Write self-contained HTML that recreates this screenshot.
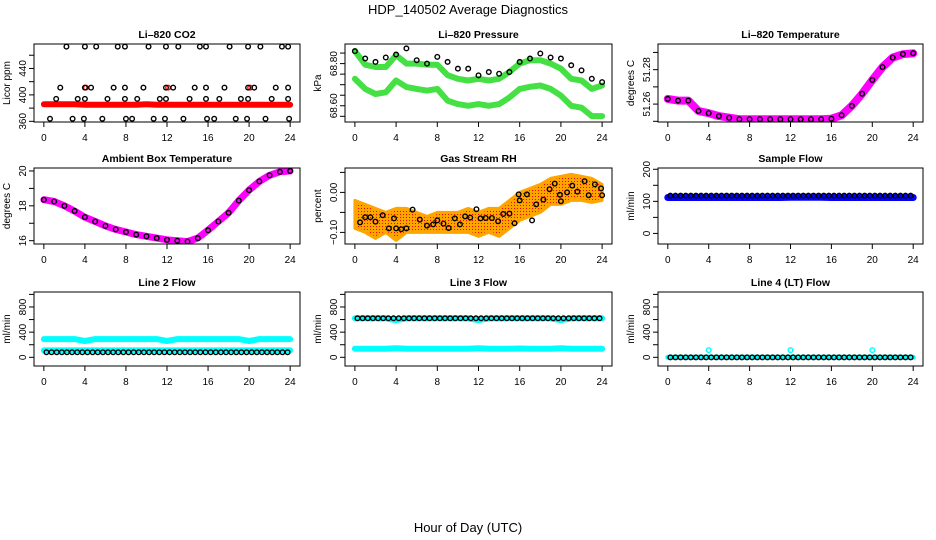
<!DOCTYPE html>
<html><head><meta charset="utf-8"><style>
html,body{margin:0;padding:0;background:#fff}
svg{display:block;font-family:"Liberation Sans",Arial,sans-serif}
</style></head><body>
<svg id="chart" width="936" height="540" viewBox="0 0 936 540">
<text x="468" y="14" text-anchor="middle" font-size="13">HDP_140502  Average Diagnostics</text>
<text x="468" y="532" text-anchor="middle" font-size="13">Hour of Day (UTC)</text>
</svg>
<script>
const H25=[0,1,2,3,4,5,6,7,8,9,10,11,12,13,14,15,16,17,18,19,20,21,22,23,24];
const H48=[0.25,0.75,1.25,1.75,2.25,2.75,3.25,3.75,4.25,4.75,5.25,5.75,6.25,6.75,7.25,7.75,8.25,8.75,9.25,9.75,10.25,10.75,11.25,11.75,12.25,12.75,13.25,13.75,14.25,14.75,15.25,15.75,16.25,16.75,17.25,17.75,18.25,18.75,19.25,19.75,20.25,20.75,21.25,21.75,22.25,22.75,23.25,23.75];
const xTicks=[0,4,8,12,16,20,24];
// CO2
const co2TopHours=[2.2,4.0,5.1,7.2,7.9,10.2,11.9,13.1,15.2,15.8,18.1,19.9,21.1,23.2,23.8];
const co2HiHours=[1.6,4.0,4.6,6.8,7.9,9.7,11.9,12.6,14.7,15.8,17.6,19.9,20.5,22.6,23.8];
const co2MidHours=[1.2,3.3,4.0,6.2,7.9,9.1,11.3,11.9,14.2,15.8,17.1,19.2,19.9,22.2,23.8];
const co2LowHours=[0.6,2.8,3.9,5.7,8.0,8.6,10.7,11.8,13.6,15.9,16.6,18.7,19.8,21.6,23.9];
const co2Levels=[473,411,394,364];
const co2Red=[386,386,386,386,385,385,385,385,385,385,386,385,385,385,385,385,385,385,385,385,385,385,385,385,385];
const co2RedSpikeHours=[4.1,12.1,20.1];
const co2RedSpikeVals=[411,411,411];
// Pressure
const pBlack=[68.859,68.824,68.808,68.829,68.843,68.872,68.816,68.80,68.832,68.808,68.776,68.776,68.744,68.760,68.752,68.760,68.808,68.824,68.848,68.829,68.824,68.792,68.768,68.728,68.712];
const pUpper=[68.86,68.795,68.784,68.784,68.84,68.80,68.80,68.795,68.795,68.745,68.728,68.72,68.728,68.72,68.728,68.76,68.80,68.816,68.816,68.80,68.776,68.728,68.72,68.68,68.696];
const pLower=[68.728,68.68,68.656,68.664,68.72,68.689,68.68,68.672,68.68,68.624,68.608,68.60,68.608,68.60,68.608,68.639,68.68,68.69,68.696,68.68,68.648,68.60,68.591,68.551,68.551];
// Li-820 temperature
const tLicor=[51.263,51.262,51.262,51.256,51.2547,51.253,51.2521,51.2512,51.2512,51.2512,51.2512,51.2512,51.2512,51.2512,51.2512,51.2512,51.2515,51.2535,51.259,51.266,51.274,51.2815,51.287,51.289,51.2895];
// Ambient
const tAmb=[18.35,18.25,18.0,17.7,17.35,17.1,16.85,16.65,16.5,16.35,16.25,16.15,16.05,16.0,15.95,16.15,16.6,17.1,17.6,18.3,18.9,19.4,19.75,19.95,20.0];
// RH
const rhHours=[0.5,1,1.5,2,2.7,3.3,3.8,4,4.5,5,5.6,6.3,7,7.6,8,8.6,9.1,9.7,10.2,10.7,11.2,11.8,12.2,12.7,13.3,13.9,14.4,15,15.5,15.9,16,16.7,17.2,17.6,18.3,18.9,19.4,19.9,20,20.6,21.1,21.6,22.3,22.7,23.3,23.9,24];
const rhVals=[-0.075,-0.062,-0.062,-0.073,-0.057,-0.09,-0.065,-0.09,-0.092,-0.09,-0.043,-0.068,-0.083,-0.08,-0.07,-0.078,-0.089,-0.065,-0.08,-0.06,-0.063,-0.042,-0.065,-0.064,-0.064,-0.072,-0.054,-0.053,-0.077,-0.005,-0.02,-0.005,-0.07,-0.03,-0.018,0.008,0.022,-0.006,-0.022,0.0,0.017,0.002,0.028,-0.007,0.02,0.01,-0.007];
const rhLow=[-0.09,-0.10,-0.115,-0.10,-0.12,-0.10,-0.10,-0.10,-0.10,-0.10,-0.10,-0.10,-0.11,-0.10,-0.11,-0.09,-0.07,-0.06,-0.05,-0.03,-0.03,-0.02,-0.02,-0.025,-0.02];
const rhHigh=[-0.02,-0.03,-0.04,-0.05,-0.04,-0.04,-0.05,-0.06,-0.05,-0.05,-0.05,-0.04,-0.05,-0.04,-0.04,-0.02,0.0,0.01,0.02,0.035,0.04,0.045,0.04,0.035,0.02];
// Flows
const sfBlue=[112,112,112,112,112,112,112,112,112,112,112,112,113,113,113,113,112,112,112,112,112,112,112,112,112];
const sfBlack=[118,118,118,118,118,118,118,118,118,118,118,118,118,118,118,118,118,118,118,118,118,118,118,118,118,118,118,118,118,118,118,118,118,118,118,118,118,118,118,118,118,118,118,118,118,118,118,118];
const l2Upper=[290,290,290,290,260,290,290,290,290,290,290,290,260,290,290,290,290,290,290,290,260,290,290,290,290];
const l2Lower=[110,110,110,110,110,110,110,110,110,110,110,110,110,110,110,110,110,110,110,110,110,110,110,110,110];
const l2Black=[80,80,80,80,80,80,80,80,80,80,80,80,80,80,80,80,80,80,80,80,80,80,80,80,80,80,80,80,80,80,80,80,80,80,80,80,80,80,80,80,80,80,80,80,80,80,80,80];
const l3Upper=[620,620,620,620,590,620,620,620,620,620,620,620,590,620,620,620,620,620,620,620,590,620,620,620,620];
const l3Lower=[135,135,135,135,145,135,135,135,135,135,135,135,145,135,135,135,140,135,135,135,145,135,135,135,135];
const l3Black=[620,620,620,620,620,620,620,620,620,620,620,620,620,620,620,620,620,620,620,620,620,620,620,620,620,620,620,620,620,620,620,620,620,620,620,620,620,620,620,620,620,620,620,620,620,620,620,620];
const l4Cyan=[0,0,0,0,0,0,0,0,0,0,0,0,0,0,0,0,0,0,0,0,0,0,0,0,0];
const l4SpikeHours=[4,12,20];
const l4SpikeVals=[115,115,115];
const l4Black=[0,0,0,0,0,0,0,0,0,0,0,0,0,0,0,0,0,0,0,0,0,0,0,0,0,0,0,0,0,0,0,0,0,0,0,0,0,0,0,0,0,0,0,0,0,0,0,0];

const NS='http://www.w3.org/2000/svg';
const svg=document.getElementById('chart');
function mk(tag,attrs,parent){const e=document.createElementNS(NS,tag);for(const k in attrs)e.setAttribute(k,attrs[k]);(parent||svg).appendChild(e);return e;}

function panel(p){
  const g=mk('g',{});
  
  
  const W=p.r-p.l,Hh=p.b-p.t;
  p.x=v=>p.l+(v+0.96)/25.92*W;
  p.y=v=>p.b-(v-p.ymin)/(p.ymax-p.ymin)*Hh;
  const defs=mk('defs',{},g);
  const cp=mk('clipPath',{id:'c'+p.name},defs);
  mk('rect',{x:p.l,y:p.t,width:W,height:Hh},cp);
  p.plot=mk('g',{'clip-path':'url(#c'+p.name+')'},g);
  const box=mk('rect',{x:p.l,y:p.t,width:W,height:Hh,fill:'none',stroke:'#000','stroke-width':1},g);
  
  
  const tt=mk('text',{x:(p.l+p.r)/2,y:p.t-6,'text-anchor':'middle','font-size':10.5,'font-weight':'bold'},g);
  tt.textContent=p.title;
  
  
  const xa=mk('g',{},g);
  
  
  xTicks.forEach(v=>{const X=p.x(v);mk('line',{x1:X,x2:X,y1:p.b,y2:p.b+5,stroke:'#000'},xa);
    const t=mk('text',{x:X,y:p.b+19,'text-anchor':'middle','font-size':10},xa);t.textContent=v;});
  const ya=mk('g',{},g);
  
  
  p.yTicks.forEach(v=>{const Y=p.y(v);mk('line',{x1:p.l-5,x2:p.l,y1:Y,y2:Y,stroke:'#000'},ya);});
  p.yLabels.forEach((v,i)=>{const Y=p.y(v);const X=p.l-8;
    const t=mk('text',{x:X,y:Y,'text-anchor':'middle','font-size':10,transform:'rotate(-90 '+X+' '+Y+')'},ya);t.textContent=p.yLabelText[i];});
  const yt=mk('text',{x:p.l-24,y:(p.t+p.b)/2,'text-anchor':'middle','font-size':10,transform:'rotate(-90 '+(p.l-24)+' '+((p.t+p.b)/2)+')'},g);
  yt.textContent=p.ylab;
  
  
  return p;
}
function band(p,xs,ys,color,w,name){
  const d=xs.map((h,i)=>(i?'L':'M')+p.x(h).toFixed(1)+' '+p.y(ys[i]).toFixed(1)).join(' ');
  const e=mk('path',{d:d,fill:'none',stroke:color,'stroke-width':w,'stroke-linecap':'round','stroke-linejoin':'round'},p.plot);
  
  
}
function circles(p,xs,ys,color,name,r,fill){
  const g=mk('g',{},p.plot);
  
  
  xs.forEach((h,i)=>{const c=mk('circle',{cx:p.x(h),cy:p.y(ys[i]),r:r||2.3,fill:fill||'none',stroke:color,'stroke-width':1.4},g);
    
    });
}

const defs=mk('defs',{});
const pat=mk('pattern',{id:'rhpat',width:3,height:3,patternUnits:'userSpaceOnUse'},defs);
mk('rect',{width:3,height:3,fill:'#ffa500'},pat);
mk('rect',{x:1,y:1,width:1,height:1,fill:'#ff0000'},pat);

const L=[34,345,658],R=[300,612,923];
const rows=[[44,122],[168,244],[292,366]];

let p=panel({name:'co2',title:'Li\u2013820 CO2',l:L[0],r:R[0],t:rows[0][0],b:rows[0][1],ymin:359,ymax:477,yTicks:[360,380,400,420,440,460],yLabels:[360,400,440],yLabelText:['360','400','440'],ylab:'Licor ppm'});
band(p,H25,co2Red,'#ff0000',6,'co2-red-series');
circles(p,co2RedSpikeHours,co2RedSpikeVals,'#ff0000','co2-red-spikes');
circles(p,co2TopHours,co2TopHours.map(()=>co2Levels[0]),'#000','co2-top-points');
circles(p,co2HiHours,co2HiHours.map(()=>co2Levels[1]),'#000','co2-high-points');
circles(p,co2MidHours,co2MidHours.map(()=>co2Levels[2]),'#000','co2-mid-points');
circles(p,co2LowHours,co2LowHours.map(()=>co2Levels[3]),'#000','co2-low-points');

p=panel({name:'pressure',title:'Li\u2013820 Pressure',l:L[1],r:R[1],t:rows[0][0],b:rows[0][1],ymin:68.523,ymax:68.893,yTicks:[68.55,68.60,68.65,68.70,68.75,68.80,68.85],yLabels:[68.60,68.80],yLabelText:['68.60','68.80'],ylab:'kPa'});
band(p,H25,pUpper,'#44e044',6,'pressure-upper-green');
band(p,H25,pLower,'#44e044',6,'pressure-lower-green');
circles(p,H25,pBlack,'#000','pressure-black-points');

p=panel({name:'licor-temp',title:'Li\u2013820 Temperature',l:L[2],r:R[2],t:rows[0][0],b:rows[0][1],ymin:51.2496,ymax:51.2949,yTicks:[51.25,51.26,51.27,51.28,51.29],yLabels:[51.26,51.28],yLabelText:['51.26','51.28'],ylab:'degrees C'});
band(p,H25,tLicor,'#ff00ff',8,'licor-temp-magenta');
circles(p,H25,tLicor,'#000','licor-temp-points');

p=panel({name:'ambient-temp',title:'Ambient Box Temperature',l:L[0],r:R[0],t:rows[1][0],b:rows[1][1],ymin:15.81,ymax:20.17,yTicks:[16,17,18,19,20],yLabels:[16,18,20],yLabelText:['16','18','20'],ylab:'degrees C'});
band(p,H25,tAmb,'#ff00ff',7,'ambient-temp-magenta');
circles(p,H25,tAmb,'#000','ambient-temp-points');

p=panel({name:'rh',title:'Gas Stream RH',l:L[1],r:R[1],t:rows[1][0],b:rows[1][1],ymin:-0.129,ymax:0.061,yTicks:[-0.10,-0.05,0,0.05],yLabels:[-0.10,0],yLabelText:['\u22120.10','0.00'],ylab:'percent'});
(function(){const d=H25.map((h,i)=>(i?'L':'M')+p.x(h).toFixed(1)+' '+p.y(rhHigh[i]).toFixed(1)).join(' ')+' '+H25.slice().reverse().map((h,j)=>'L'+p.x(h).toFixed(1)+' '+p.y(rhLow[24-j]).toFixed(1)).join(' ')+' Z';
const e=mk('path',{d:d,fill:'url(#rhpat)',stroke:'#ffa500','stroke-width':3,'stroke-linejoin':'round'},p.plot);

})();
circles(p,rhHours,rhVals,'#000','rh-black-points');

p=panel({name:'sample-flow',title:'Sample Flow',l:L[2],r:R[2],t:rows[1][0],b:rows[1][1],ymin:-33,ymax:204,yTicks:[0,50,100,150,200],yLabels:[0,100,200],yLabelText:['0','100','200'],ylab:'ml/min'});
band(p,H25,sfBlue,'#0000ff',7,'sample-flow-blue');
circles(p,H48,sfBlack,'#000','sample-flow-points');

p=panel({name:'line2-flow',title:'Line 2 Flow',l:L[0],r:R[0],t:rows[2][0],b:rows[2][1],ymin:-138,ymax:1038,yTicks:[0,200,400,600,800,1000],yLabels:[0,400,800],yLabelText:['0','400','800'],ylab:'ml/min'});
band(p,H25,l2Upper,'#00ffff',6,'line2-cyan-upper');
band(p,H25,l2Lower,'#00ffff',6,'line2-cyan-lower');
circles(p,H48,l2Black,'#000','line2-points');

p=panel({name:'line3-flow',title:'Line 3 Flow',l:L[1],r:R[1],t:rows[2][0],b:rows[2][1],ymin:-138,ymax:1038,yTicks:[0,200,400,600,800,1000],yLabels:[0,400,800],yLabelText:['0','400','800'],ylab:'ml/min'});
band(p,H25,l3Upper,'#00ffff',6,'line3-cyan-upper');
band(p,H25,l3Lower,'#00ffff',6,'line3-cyan-lower');
circles(p,H48,l3Black,'#000','line3-points');

p=panel({name:'line4-flow',title:'Line 4 (LT) Flow',l:L[2],r:R[2],t:rows[2][0],b:rows[2][1],ymin:-138,ymax:1038,yTicks:[0,200,400,600,800,1000],yLabels:[0,400,800],yLabelText:['0','400','800'],ylab:'ml/min'});
band(p,H25,l4Cyan,'#00ffff',5,'line4-cyan');
circles(p,l4SpikeHours,l4SpikeVals,'#00ffff','line4-cyan-spikes');
circles(p,H48,l4Black,'#000','line4-points');
</script>
</body></html>
